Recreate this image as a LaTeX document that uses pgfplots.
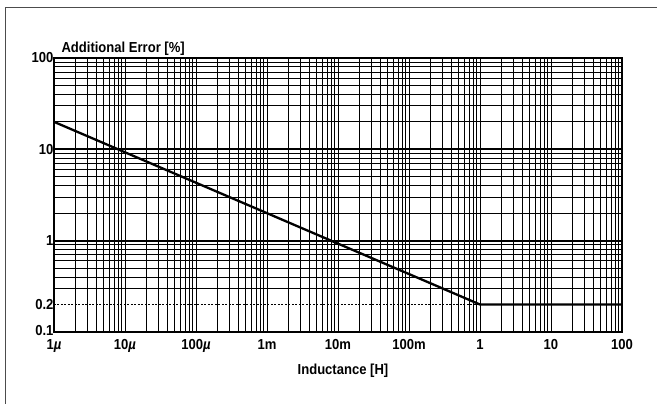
\documentclass[border=0pt]{standalone}
\usepackage{fontspec}
\setmainfont{Liberation Sans}
\newfontfamily\tallfont[FakeStretch=0.9]{Liberation Sans}
\usepackage{pgfplots}
\pgfplotsset{compat=1.18}
\newcommand{\lbl}{\tallfont\bfseries\fontsize{14.5}{16}\selectfont}
\newcommand{\mc}{{\itshape µ}}
\begin{document}
\begin{tikzpicture}
\path[use as bounding box] (0pt,0pt) rectangle (657pt,404pt);
\draw[black!70, line width=0.9pt] (5pt,0pt) -- (5pt,397pt) -- (657pt,397pt);
\begin{axis}[
  at={(54pt,72pt)}, anchor=south west,
  scale only axis, width=568pt, height=274pt,
  xmode=log, ymode=log,
  xmin=1e-6, xmax=100, ymin=0.1, ymax=100,
  xtick={1e-6,1e-5,1e-4,1e-3,1e-2,1e-1,1,10,100},
  xticklabels={1\mc,10\mc,100\mc,1m,10m,100m,1,10,100},
  minor xtick={2e-6,3e-6,4e-6,5e-6,6e-6,7e-6,8e-6,9e-6,
               2e-5,3e-5,4e-5,5e-5,6e-5,7e-5,8e-5,9e-5,
               2e-4,3e-4,4e-4,5e-4,6e-4,7e-4,8e-4,9e-4,
               2e-3,3e-3,4e-3,5e-3,6e-3,7e-3,8e-3,9e-3,
               2e-2,3e-2,4e-2,5e-2,6e-2,7e-2,8e-2,9e-2,
               0.2,0.3,0.4,0.5,0.6,0.7,0.8,0.9,
               2,3,4,5,6,7,8,9,
               20,30,40,50,60,70,80,90},
  ytick={0.1,0.2,1,10,100},
  yticklabels={\raisebox{4pt}{0.1},0.2,1,10,100},
  minor ytick={0.3,0.4,0.5,0.6,0.7,0.8,0.9,2,3,4,5,6,7,8,9,20,30,40,50,60,70,80,90},
  xmajorgrids=true, xminorgrids=true,
  ymajorgrids=false, yminorgrids=true,
  major grid style={black, line width=0.9pt},
  minor grid style={black, line width=0.9pt},
  major tick length=0pt, minor tick length=0pt,
  axis line style={line width=2.4pt},
  every tick label/.append style={font=\lbl},
  yticklabel style={xshift=3pt},
  xticklabel style={yshift=-4pt},
  xlabel={Inductance [H]},
  xlabel style={font=\lbl, at={(axis description cs:0.5,0)}, anchor=base, yshift=-43pt, xshift=5pt},
  ylabel={Additional Error [\%]},
  ylabel style={font=\lbl, rotate=-90, at={(axis description cs:0,1)}, anchor=base west, xshift=4pt, yshift=5.5pt},
  clip=false,
]
\addplot[black, line width=2pt] coordinates {(1e-6,1) (100,1)};
\addplot[black, line width=2pt] coordinates {(1e-6,10) (100,10)};
\addplot[black, line width=1.2pt, dash pattern=on 2pt off 1.5pt] coordinates {(1e-6,0.2) (1,0.2)};
\addplot[black, line width=2.3pt] coordinates {(1e-6,20) (1,0.2) (100,0.2)};
\end{axis}
\end{tikzpicture}
\end{document}
